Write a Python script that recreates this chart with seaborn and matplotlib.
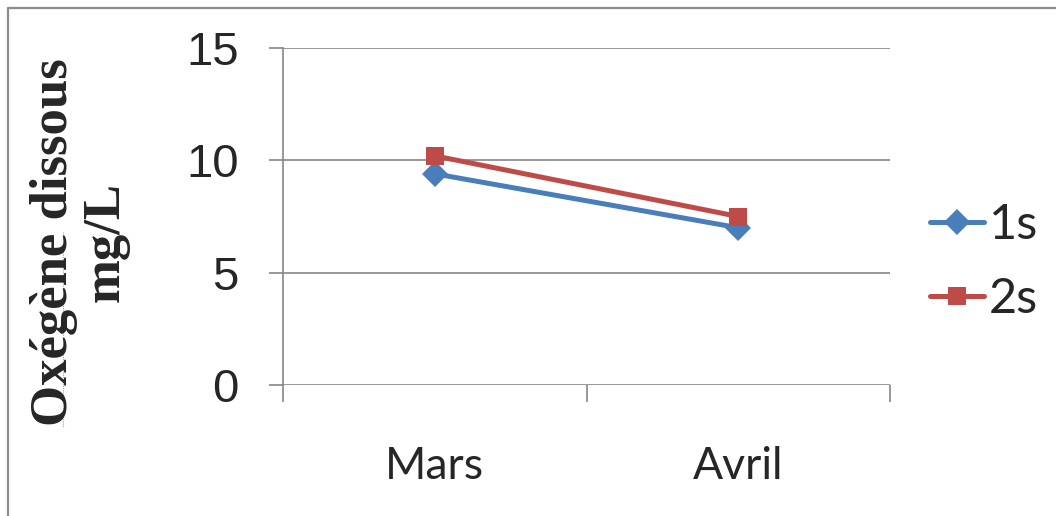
import matplotlib
matplotlib.use("Agg")
import matplotlib.pyplot as plt
from matplotlib.lines import Line2D
import seaborn as sns
import pandas as pd

# Dissolved oxygen readings per month and station
mois = ["Mars", "Avril"]
serie_1s = [9.4, 7.0]
serie_2s = [10.2, 7.5]
series = ["1s", "2s"]
y_ticks = [0, 5, 10, 15]

df = pd.DataFrame({
    "mois": mois * 2,
    "valeur": serie_1s + serie_2s,
    "serie": [series[0]] * len(mois) + [series[1]] * len(mois),
})

sns.set_style("white")
plt.rcParams["font.family"] = ["Liberation Sans", "DejaVu Sans"]

W, H = 1056, 516
fig = plt.figure(figsize=(W / 100, H / 100), dpi=100)
ax = fig.add_axes([283 / W, 1 - 385 / H, (890 - 283) / W, (385 - 48) / H])

palette = {"1s": "#4A7EBB", "2s": "#BE4B48"}
sns.lineplot(
    data=df, x="mois", y="valeur", hue="serie", style="serie",
    markers={"1s": "D", "2s": "s"}, dashes=False, palette=palette,
    linewidth=3.6, markersize=13, markeredgewidth=0, ax=ax, sort=False,
)

grid_col = "#868686"
ax.set_xlim(-0.5, 1.5)
ax.set_ylim(0, 15)
ax.set_yticks(y_ticks)
ax.set_yticklabels([str(v) for v in y_ticks], fontsize=34, fontfamily="Liberation Sans")
ax.yaxis.grid(True, color=grid_col, linewidth=1.2)
ax.set_axisbelow(True)
for side in ["top", "right", "bottom"]:
    ax.spines[side].set_visible(False)
ax.spines["left"].set_color(grid_col)
ax.spines["left"].set_linewidth(1.2)
ax.tick_params(axis="y", which="major", direction="out", length=10, width=1.2,
               color=grid_col, pad=22, left=True)

# category labels centred, tick marks on category boundaries
ax.set_xticks([0, 1])
ax.set_xticklabels(mois, fontsize=32, fontfamily=["Lato", "DejaVu Sans"])
ax.set_xticks([-0.5, 0.5, 1.5], minor=True)
ax.tick_params(axis="x", which="major", length=0, pad=44)
ax.tick_params(axis="x", which="minor", direction="out", length=12, width=1.2,
               color=grid_col, bottom=True)
ax.set_xlabel("")
ax.set_ylabel("")

handles, labels = ax.get_legend_handles_labels()
ax.legend_.remove()
leg = fig.legend(
    handles, labels, loc="center left",
    bbox_to_anchor=(906 / W, 1 - 262 / H), frameon=False,
    prop={"family": ["Lato", "DejaVu Sans"], "size": 35},
    handlelength=1.1, handletextpad=0.1, labelspacing=0.6, borderpad=0,
)
for h in leg.legend_handles:
    h.set_linewidth(3.6)
    h.set_markersize(13)

fig.text(80 / W, 1 - 242 / H, "Oxégène dissous\nmg/L", rotation=90,
         ha="center", va="center", multialignment="center",
         fontsize=38, fontweight="bold", fontfamily="Liberation Serif",
         linespacing=1.1)

# spell-check underline beneath the first word
fig.add_artist(Line2D([63 / W, 63 / W], [1 - 232 / H, 1 - 427 / H],
                      color="#F08080", linewidth=0.8, linestyle=(0, (1, 1))))

# chart frame
frame_col = "#8C8C8C"
fig.add_artist(Line2D([8 / W, 1.0], [1 - 8 / H, 1 - 8 / H], color=frame_col, linewidth=1.6))
fig.add_artist(Line2D([8 / W, 8 / W], [0, 1 - 8 / H], color=frame_col, linewidth=1.6))

fig.savefig("out.png", dpi=100)
